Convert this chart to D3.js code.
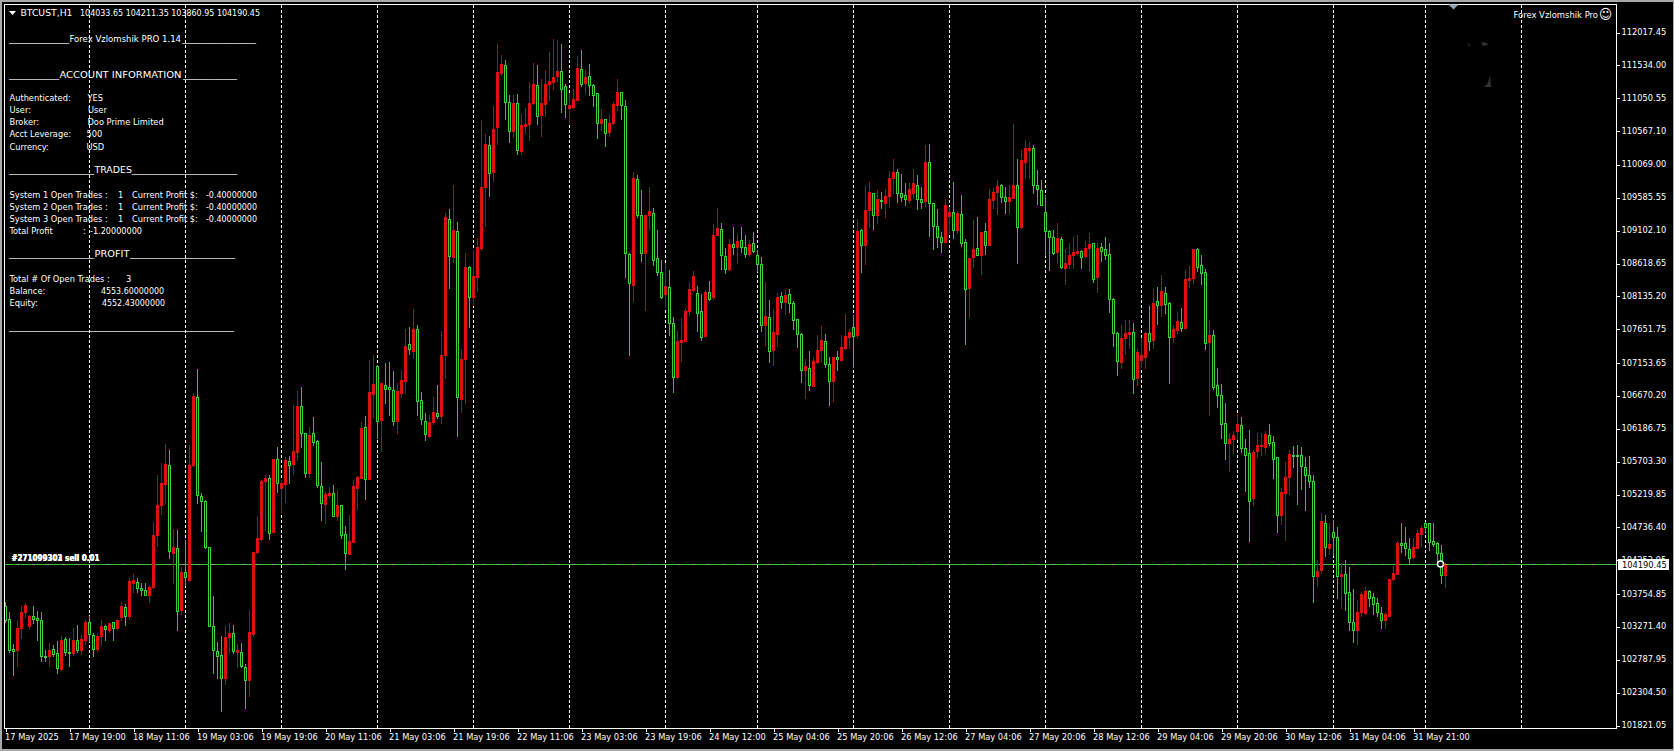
<!DOCTYPE html>
<html>
<head>
<meta charset="utf-8">
<title>BTCUST,H1</title>
<script src="https://cdn.jsdelivr.net/npm/d3@7"></script>
<style>
  html, body { margin: 0; padding: 0; background: #000; overflow: hidden; }
  text { font-family: "DejaVu Sans Condensed", "DejaVu Sans", sans-serif; font-stretch: condensed; font-size: 9.2px; fill: #fff; }
</style>
</head>
<body>
<div id="chart"></div>
<script>
// bar values (H1 candles, red = up, hollow green = down)
const opens = [
  103582,103386,102945,102925,103249,103494,103288,103425,103396,103371,
  102837,102837,102945,102886,102651,103092,102906,102886,103082,102925,
  103082,103337,103151,102945,103141,103278,103229,103337,103249,103415,
  103562,103425,103915,103935,103841,103822,103743,103866,104621,105066,
  105375,105650,104366,104429,103523,104077,103964,105650,106649,105199,
  105120,104444,103288,102915,102857,102523,103121,103180,102896,102906,
  102680,102484,103170,104376,104562,105414,105463,104670,105738,105316,
  105375,105718,105669,105850,106522,106120,105532,106130,106002,105341,
  105081,105209,105238,104905,105062,104635,104351,104527,105321,105468,
  106208,105454,106700,107112,106318,106837,106798,106759,106308,106720,
  106896,107435,107337,107651,106612,106298,106083,106289,106416,106377,
  107278,109268,108709,109091,106632,107210,108562,108131,108425,108846,
  109738,110356,109964,110630,111424,111532,111002,110561,110973,110277,
  110640,110669,110973,111252,110797,110963,111257,111287,111375,111458,
  111228,110904,110924,111022,111487,111272,111375,111252,111120,110689,
  110738,110552,110679,110953,111149,110943,108752,108297,109855,109326,
  108767,109335,109355,108693,108493,108169,108267,107738,106944,107464,
  107483,107924,108228,108179,107914,107552,108199,108120,109041,109130,
  108728,108532,108899,108865,108963,108855,108757,108914,108738,108610,
  107709,107826,107346,107581,108140,108052,108164,108032,107797,107581,
  107052,107076,106817,107174,107346,107473,107140,106895,107238,107199,
  107370,107542,107679,107562,109105,108894,109404,109649,109326,109551,
  109512,109610,109874,109958,109659,109620,109551,109659,109781,109561,
  109531,110105,109502,109164,109002,108934,109316,109379,109110,109340,
  108929,108257,108713,108840,108742,109090,108894,109551,109669,109767,
  109600,109536,109580,109767,109149,110110,110286,110325,109776,109698,
  109370,109090,109002,108787,108973,108556,108610,108742,108772,108796,
  108728,108845,108914,108424,108855,108826,108752,108095,107591,107170,
  107522,107581,107606,106934,107199,107248,107591,107493,108061,108012,
  108179,108032,107542,107640,107758,107674,108375,108404,108826,108591,
  108488,107468,107571,106827,106680,106268,105984,106043,106160,106248,
  105900,105827,105161,105866,105935,105925,106092,105989,105768,104925,
  105249,105474,105807,105807,105807,105631,105504,105425,104014,104112,
  104798,104435,104661,104592,104024,104048,103779,103338,103220,103485,
  103475,103798,103710,103622,103475,103367,103436,103975,104053,104499,
  104504,104416,104293,104435,104641,104798,104798,104543,104504,104357,
  104033.65
];
const highs = [
  103641,103494,103023,103376,103572,103621,103445,103582,103513,103498,
  102935,103033,103008,103057,103141,103121,103106,103253,103302,103155,
  103366,103435,103180,103180,103376,103302,103327,103351,103386,103645,
  103611,103988,104052,103984,103915,103925,103890,104817,105507,105679,
  105963,105875,104719,104699,104160,104552,105944,106718,107061,105238,
  105140,104444,103729,103053,103141,103288,103327,103298,103023,103033,
  102729,103523,104380,104905,105434,105507,105507,105738,105924,105434,
  105777,105787,106536,106747,106798,106130,106210,106367,106022,105703,
  105262,105336,105360,105287,105066,104758,104919,105434,105493,106282,
  106375,107200,107269,107126,106857,107151,107171,107038,106867,107053,
  107661,107680,107945,107710,106730,106416,106387,106651,106832,107621,
  109356,109415,109772,109229,107357,108768,108582,108817,108988,110728,
  110522,110493,110934,111845,111683,111620,111095,111095,111110,110816,
  110904,111287,111571,111532,111326,111473,111737,111924,111904,111855,
  111267,111120,111193,111679,111757,111463,111551,111267,111130,110885,
  110752,110816,110993,111336,111149,111022,108767,109963,109918,109698,
  109330,109737,109428,109110,108669,108620,108522,107836,107620,107811,
  107958,108346,108502,108287,108169,108228,108365,109198,109433,109208,
  108845,108973,109149,109051,109149,109032,108963,109081,108816,108718,
  108346,108081,107954,108179,108199,108228,108238,108071,107797,107591,
  107209,107331,107248,107566,107699,107581,107248,107248,107336,107562,
  107875,107660,107856,109267,109120,109757,109816,109649,109698,109678,
  109708,109982,110149,110016,109933,109796,109796,110016,109918,109737,
  110359,110374,109512,109414,109085,109575,109453,109825,109394,109620,
  108973,108698,109257,109296,109085,109208,109713,109727,109845,109786,
  109737,109771,110668,110149,110286,110443,110404,110355,109992,109845,
  109624,109110,109110,109208,109002,108826,108914,109002,109036,108816,
  108943,109061,108924,108914,108924,109002,108924,108105,107615,107713,
  107787,107787,107738,107356,107522,107615,107993,108238,108267,108444,
  108267,108056,107713,107905,107958,108522,108595,108836,108841,108742,
  108532,107787,107640,107076,106846,106562,106121,106160,106405,106366,
  106033,106170,105876,106121,106121,106160,106258,106082,105778,105312,
  105700,105876,105935,105949,105915,105778,105788,105513,104249,104945,
  104925,104798,104847,104739,104210,104259,104151,103828,103661,103789,
  103857,103818,103769,103695,103563,103495,103980,104161,104543,104798,
  104739,104577,104577,104700,104759,104822,104798,104798,104528,104479,
  104211.35
];
const lows = [
  103337,102896,102563,102690,103102,103415,103239,103327,103082,102763,
  102763,102700,102837,102592,102631,102861,102700,102861,102896,102876,
  103023,103057,102837,102910,103008,103082,103204,103082,103239,103376,
  103302,103386,103778,103792,103743,103739,103645,103841,104464,104934,
  105091,104287,103925,103219,103464,103890,103944,105640,105101,104689,
  104429,103288,102592,102514,102028,102435,102886,102886,102680,102680,
  102082,102259,103141,104356,104552,104699,104562,104670,105262,104964,
  105115,105385,105522,105728,105914,105473,105483,105948,105326,104846,
  104807,105179,104905,104846,104581,104126,104351,104523,105013,105458,
  105160,105444,106367,106046,105865,106573,106391,106249,106132,106661,
  106720,107288,107229,106387,106259,106022,106073,106259,106347,106279,
  106935,108258,108645,106083,106436,106563,107690,108008,108219,108817,
  109170,109611,109836,110375,111389,110748,110409,110473,110228,110228,
  110542,110434,110963,110669,110493,110787,111022,111184,111306,110846,
  110772,110689,110904,111022,111228,111130,111095,110934,110463,110581,
  110345,110493,110669,110875,110748,108424,107272,108071,109296,108659,
  107934,109120,108595,108448,108110,107973,107566,106729,106934,107189,
  107483,107860,108208,107620,107493,107552,108081,108101,109032,108542,
  108483,108522,108757,108630,108791,108718,108733,108787,108512,107630,
  107419,107170,107125,107405,107963,107875,107909,107655,107395,106876,
  106640,106758,106817,107160,107170,107101,106542,106601,107052,107199,
  107366,107370,107101,107542,108497,108610,109149,109130,109218,109433,
  109306,109453,109649,109526,109541,109477,109512,109580,109424,109438,
  109463,109022,108836,108865,108787,108934,109061,108992,109071,108875,
  107434,107836,108571,108742,108463,108757,108889,109433,109345,109522,
  109365,109365,109580,108630,109139,109884,109884,109659,109492,109482,
  108742,108522,108757,108630,108551,108316,108546,108551,108757,108551,
  108718,108522,108346,108199,108649,108689,107905,107405,106978,107081,
  107287,107370,106719,106831,107101,107081,107346,107380,107728,107846,
  107885,106866,107464,107581,107630,107674,108277,108326,108512,108316,
  107366,106390,106778,106513,106047,105749,105572,105827,106033,105851,
  105278,104543,105072,105768,105802,105827,105945,105464,104671,104788,
  104553,105229,105621,105082,105298,104994,105327,103642,103877,104063,
  104308,104347,104332,103691,103553,103514,103230,103054,103024,103426,
  103465,103573,103465,103426,103250,103259,103436,103955,104043,104381,
  104328,104200,104288,104435,104465,104690,104406,104465,104220,103916,
  103860.95
];
const closes = [
  103376,102925,102915,103253,103494,103592,103435,103386,103366,102837,
  102827,102935,102876,102661,103082,102896,102886,103082,102925,103097,
  103351,103160,102945,103141,103278,103239,103327,103249,103376,103572,
  103425,103944,103964,103837,103822,103748,103866,104621,105062,105385,
  105669,104385,104444,103513,104082,104003,105650,106669,105209,105130,
  104444,103288,102925,102837,102514,103121,103180,102910,102935,102700,
  102484,103200,104376,104581,105424,105463,104660,105738,105395,105385,
  105728,105659,105855,106527,106120,105542,106091,105997,105360,105091,
  105223,105238,104910,105062,104630,104366,104532,105346,105473,106198,
  105454,106728,106847,106308,106857,106779,106769,106308,106739,106906,
  107406,107357,107651,106602,106328,106112,106289,106436,106377,107273,
  109307,108729,109111,106661,107210,108562,108121,108435,108856,109738,
  110375,109954,110591,111434,111551,110997,110561,110973,110287,110650,
  110669,110973,111257,110787,110973,111267,111301,111360,111448,111189,
  110968,110948,111037,111492,111262,111360,111238,111100,110679,110738,
  110542,110679,110963,111149,110953,108777,108326,109884,109326,108777,
  109326,109384,108669,108497,108120,108287,107748,106954,107473,107493,
  107924,108238,108434,107895,107542,108199,108101,109032,109139,108738,
  108532,108904,108865,108943,108865,108757,108904,108796,108610,107718,
  107846,107336,107611,108130,108052,108154,108032,107787,107581,107052,
  107111,106831,107189,107346,107493,107140,106895,107238,107219,107385,
  107552,107611,107552,109090,108894,109404,109669,109335,109571,109541,
  109610,109884,109963,109659,109600,109571,109708,109796,109571,109526,
  110110,109512,109174,109012,108934,109473,109375,109110,109360,108914,
  108248,108698,108831,108742,109081,108894,109561,109669,109757,109600,
  109541,109590,109771,109159,110139,110315,110315,109776,109718,109482,
  109100,109012,108777,108992,108571,108620,108742,108782,108796,108718,
  108840,108904,108385,108845,108806,108747,108091,107601,107189,107522,
  107591,107611,106925,107317,107268,107596,107483,108032,108012,108208,
  108022,107542,107660,107767,107674,108385,108404,108831,108571,108483,
  107454,107566,106807,106680,106258,105984,106043,106101,106258,105905,
  105798,105131,105851,105954,105954,106106,105974,105749,104925,105259,
  105474,105817,105793,105793,105641,105513,105415,104014,104092,104827,
  104445,104494,104592,104024,104043,103769,103338,103220,103495,103759,
  103798,103691,103602,103495,103367,103465,103975,104063,104504,104484,
  104426,104288,104445,104651,104724,104749,104528,104494,104357,104034,
  104190.45
];

// price scale labels
const priceTicks = [
  112017.45, 111534.00, 111050.55, 110567.10, 110069.00, 109585.55, 109102.10, 108618.65,
  108135.20, 107651.75, 107153.65, 106670.20, 106186.75, 105703.30, 105219.85, 104736.40,
  104252.95, 103754.85, 103271.40, 102787.95, 102304.50, 101821.05
];
const timeLabels = [
  "17 May 2025", "17 May 19:00", "18 May 11:06", "19 May 03:06", "19 May 19:06", "20 May 11:06",
  "21 May 03:06", "21 May 19:06", "22 May 11:06", "23 May 03:06", "23 May 19:06", "24 May 12:00",
  "25 May 04:06", "25 May 20:06", "26 May 12:06", "27 May 04:06", "27 May 20:06", "28 May 12:06",
  "29 May 04:06", "29 May 20:06", "30 May 12:06", "31 May 04:06", "31 May 21:00"
];
const separatorBars = [21, 45, 69, 93, 117, 141, 165, 188, 212, 236, 260, 284, 308, 332, 355, 379];
const bidPrice = 104190.45;
const tradeLabels = ["#271099301 sell 0.01", "#271099302 sell 0.01", "#271099303 sell 0.01"];

const width = 1674;
const height = 751;
const chartLeft = 4.5, chartTop = 4.5, chartRight = 1616.5, chartBottom = 728.5;
const uiFont = '"DejaVu Sans Condensed", "DejaVu Sans", sans-serif';

const svg = d3.select("#chart").append("svg")
  .attr("width", width)
  .attr("height", height)
  .style("display", "block");

// window edge
svg.append("rect").attr("width", width).attr("height", height).attr("fill", "#a8a8a8");
svg.append("rect").attr("x", 2).attr("y", 2).attr("width", width - 3).attr("height", height - 4).attr("fill", "#000");

const x = d3.scaleLinear().domain([0, 400]).range([5.5, 1605.5]);
const y = d3.scaleLinear().domain([112017.45, 101821.05]).range([32.5, 725.5]);
const py = p => Math.round(y(p));

// period separators
svg.append("g").selectAll("line").data(separatorBars).join("line")
  .attr("x1", d => x(d)).attr("x2", d => x(d))
  .attr("y1", chartTop).attr("y2", chartBottom)
  .attr("stroke", "#fff")
  .attr("stroke-dasharray", "3 2")
  .attr("shape-rendering", "crispEdges");

// bid + open trades line
svg.append("line")
  .attr("x1", chartLeft).attr("x2", chartRight)
  .attr("y1", py(bidPrice) + 0.5).attr("y2", py(bidPrice) + 0.5)
  .attr("stroke", "#9a9a9a").attr("shape-rendering", "crispEdges");
svg.append("line")
  .attr("x1", chartLeft).attr("x2", chartRight)
  .attr("y1", py(bidPrice) + 0.5).attr("y2", py(bidPrice) + 0.5)
  .attr("stroke", "#2fc42f")
  .attr("stroke-dasharray", "12 3")
  .attr("shape-rendering", "crispEdges");

// candles
const bars = d3.range(opens.length);
const candles = svg.append("g").attr("shape-rendering", "crispEdges");

candles.selectAll("line").data(bars).join("line")
  .attr("x1", i => x(i)).attr("x2", i => x(i))
  .attr("y1", i => py(highs[i])).attr("y2", i => py(lows[i]) + 1)
  .attr("stroke", i => closes[i] >= opens[i] ? "#a31212" : "#33c433");

candles.selectAll("rect").data(bars).join("rect")
  .attr("x", i => closes[i] >= opens[i] ? x(i) - 1.5 : x(i) - 1)
  .attr("y", i => closes[i] >= opens[i] ? py(closes[i]) : py(opens[i]) + 0.5)
  .attr("width", i => closes[i] >= opens[i] ? 3 : 2)
  .attr("height", i => closes[i] >= opens[i]
    ? Math.max(1, py(opens[i]) - py(closes[i]) + 1)
    : Math.max(1, py(closes[i]) - py(opens[i])))
  .attr("fill", i => closes[i] >= opens[i] ? "#e01010" : "#000")
  .attr("stroke", i => closes[i] >= opens[i] ? "none" : "#3ad43a");

// chart frame
svg.append("rect")
  .attr("x", chartLeft).attr("y", chartTop)
  .attr("width", chartRight - chartLeft).attr("height", chartBottom - chartTop)
  .attr("fill", "none").attr("stroke", "#fff")
  .attr("shape-rendering", "crispEdges");

// axes
const priceAxis = d3.axisRight(y).tickValues(priceTicks).tickFormat(d3.format(".2f")).tickSize(3).tickPadding(2);
const priceG = svg.append("g").attr("transform", `translate(${chartRight},0)`).call(priceAxis);
priceG.selectAll("text").attr("dy", "0.22em");

const timeAxis = d3.axisBottom(x)
  .tickValues(timeLabels.map((d, i) => i * 16))
  .tickFormat((d, i) => timeLabels[i])
  .tickSize(3).tickPadding(2);
const timeG = svg.append("g").attr("transform", `translate(0,${chartBottom})`).call(timeAxis);
timeG.selectAll("text").attr("text-anchor", "start").attr("dx", -1);

[priceG, timeG].forEach(g => {
  g.select(".domain").remove();
  g.selectAll("line").attr("stroke", "#fff").attr("shape-rendering", "crispEdges");
  g.selectAll("text").style("font-family", uiFont).style("font-size", "9.2px").attr("fill", "#fff");
});

// current price box
svg.append("rect")
  .attr("x", 1618).attr("y", py(bidPrice) - 5)
  .attr("width", 51).attr("height", 11)
  .attr("fill", "#fff");
svg.append("text")
  .attr("x", 1622).attr("y", py(bidPrice) + 0.5)
  .attr("dominant-baseline", "central")
  .style("fill", "#000")
  .text(d3.format(".2f")(bidPrice));

// text helpers
function label(lx, ly, str, fit) {
  const t = svg.append("text")
    .attr("x", lx).attr("y", ly)
    .attr("dominant-baseline", "central")
    .text(str);
  if (fit) t.attr("textLength", fit).attr("lengthAdjust", "spacingAndGlyphs");
  return t;
}
function rule(x1, x2, ly) {
  label(x1, ly, "_".repeat(Math.round((x2 - x1) / 5)), x2 - x1);
}

// top left title
svg.append("path").attr("d", "M9 11h7l-3.5 4z").attr("fill", "#fff");
label(20.5, 12.5, "BTCUST,H1", 52);
label(80, 12.5, "104033.65 104211.35 103860.95 104190.45", 180);

// ea panel
rule(9, 69, 38); label(69.5, 38, "Forex Vzlomshik PRO 1.14", 111.5); rule(182, 256, 38);
rule(9, 59, 74); label(59.5, 74, "ACCOUNT INFORMATION", 122); rule(183, 237, 74);
[
  [97.5, "Authenticated:", "YES", 87.5],
  [109.5, "User:", "User", 88],
  [121.5, "Broker:", "Doo Prime Limited", 87.5],
  [133.5, "Acct Leverage:", "500", 86.5],
  [146, "Currency:", "USD", 86.5]
].forEach(r => { label(9.5, r[0], r[1]); label(r[3], r[0], r[2]); });

rule(9, 94, 169.5); label(94.5, 169.5, "TRADES", 37.5); rule(132, 237, 169.5);
[[194, 1], [206, 2], [218, 3]].forEach(r => {
  label(9.5, r[0], `System ${r[1]} Open Trades :`);
  label(118, r[0], "1");
  label(132, r[0], "Current Profit $:");
  label(206, r[0], "-0.40000000", 51);
});
label(9.5, 230, "Total Profit"); label(83, 230, ":"); label(90, 230, "-1.20000000", 52);

rule(9, 94, 253); label(94.5, 253, "PROFIT", 35); rule(130, 235, 253);
label(9.5, 278, "Total # Of Open Trades :"); label(126, 278, "3");
label(9.5, 290, "Balance:"); label(101, 290, "4553.60000000", 63);
label(9.5, 302, "Equity:"); label(102, 302, "4552.43000000", 63);
rule(9, 234, 326);

// top right
label(1513.5, 14, "Forex Vzlomshik Pro", 84.5);
svg.append("text").attr("x", 1605.5).attr("y", 14)
  .attr("text-anchor", "middle").attr("dominant-baseline", "central")
  .style("font-family", "DejaVu Sans").style("font-size", "14px")
  .text("\u263A");

// shift marker and stray logo specks
svg.append("path").attr("d", "M1448.5 4.5h10l-5 5z").attr("fill", "#8aa2b5");
svg.append("path").attr("d", "M1467 42l4 4-2 0zM1481 42l6 1 1 2-5 1zM1490 75l1 12-7 0 4-4z").attr("fill", "#333");

// open trade labels, printed over each other
tradeLabels.forEach(t => {
  label(11.5, 557.5, t, 88).style("font-weight", "bold").style("font-size", "9px");
});

// mouse pointer sitting on the last bar
svg.append("circle").attr("cx", x(359) - 1).attr("cy", py(bidPrice)).attr("r", 3).attr("fill", "#000").attr("stroke", "#fff").attr("stroke-width", 1.5);
svg.append("line").attr("x1", x(359) + 1).attr("x2", x(359) + 6).attr("y1", py(bidPrice) + 0.5).attr("y2", py(bidPrice) + 0.5).attr("stroke", "#f0a020");
</script>
</body>
</html>
